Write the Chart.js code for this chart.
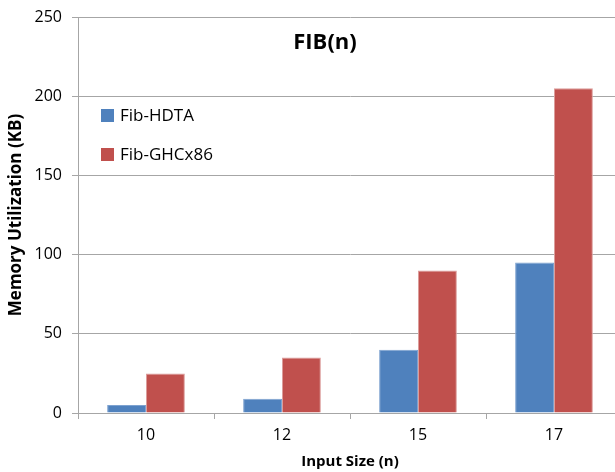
<!DOCTYPE html>
<html lang="en">
<head>
    <title>FIB(n)</title>
    <script src="https://cdn.jsdelivr.net/npm/chart.js"></script>
    <style>
        html, body { margin: 0; padding: 0; overflow: hidden; background: #fff; }
        canvas { display: block; }
    </style>
</head>
<body>
<canvas id="fibChart" width="625" height="472"></canvas>

<script>
    const chartTitle = 'FIB(n)';
    const categories = ['10', '12', '15', '17'];
    const seriesNames = ['Fib-HDTA', 'Fib-GHCx86'];
    const hdtaValues = [5, 9, 40, 95];
    const ghcValues = [25, 35, 90, 205];
    const yTicks = [0, 50, 100, 150, 200, 250];

    const FONT = '"Open Sans", "Liberation Sans", sans-serif';
    const GRID = '#a6a6a6';

    // title and legend sit inside the plot area, so draw them by hand
    const insideLabels = {
        id: 'insideLabels',
        afterDraw(chart) {
            const ctx = chart.ctx;
            ctx.save();
            ctx.fillStyle = '#000';
            ctx.textAlign = 'center';
            ctx.textBaseline = 'middle';
            ctx.font = 'bold 22px ' + FONT;
            ctx.fillText(chartTitle, 325, 43);

            ctx.textAlign = 'left';
            ctx.font = '17px ' + FONT;
            chart.data.datasets.forEach((ds, i) => {
                const y = 115 + i * 39;
                ctx.fillStyle = ds.backgroundColor;
                ctx.fillRect(101, y - 6, 13, 13);
                ctx.fillStyle = '#000';
                ctx.fillText(ds.label, 120, y + 1);
            });
            ctx.restore();
        }
    };

    const ctx = document.getElementById('fibChart').getContext('2d');
    new Chart(ctx, {
        type: 'bar',
        data: {
            labels: categories,
            datasets: [{
                label: seriesNames[0],
                data: hdtaValues,
                backgroundColor: '#4f81bd',
                borderColor: '#7da2d0',
                borderWidth: 1
            }, {
                label: seriesNames[1],
                data: ghcValues,
                backgroundColor: '#c0504d',
                borderColor: '#dc9d9b',
                borderWidth: 1
            }]
        },
        options: {
            responsive: false,
            animation: false,
            layout: { padding: { top: 17, right: 3, left: 0, bottom: 0 } },
            datasets: {
                bar: { categoryPercentage: 2 / 3.5, barPercentage: 1 }
            },
            plugins: {
                legend: { display: false },
                tooltip: { enabled: false }
            },
            scales: {
                x: {
                    offset: true,
                    grid: { offset: true, drawOnChartArea: false, color: GRID, tickLength: 6 },
                    border: { color: GRID },
                    ticks: { color: '#000', padding: 7, font: { family: FONT, size: 16 } },
                    title: {
                        display: true,
                        text: 'Input Size (n)',
                        color: '#000',
                        padding: { top: 0, bottom: 1 },
                        font: { family: FONT, size: 15, weight: 'bold' }
                    },
                    afterFit(scale) {
                        scale.height = 59;
                        scale.paddingLeft = 0;
                        scale.paddingRight = 0;
                    }
                },
                y: {
                    min: 0,
                    max: 250,
                    afterBuildTicks(scale) { scale.ticks = yTicks.map(v => ({ value: v })); },
                    grid: { color: GRID, tickLength: 6 },
                    border: { color: GRID },
                    ticks: { color: '#000', padding: 10, font: { family: FONT, size: 16 } },
                    title: {
                        display: true,
                        text: 'Memory Utilization (KB)',
                        color: '#000',
                        padding: { top: 6, bottom: 0 },
                        font: { family: FONT, size: 17, weight: 'bold' }
                    },
                    afterFit(scale) {
                        scale.width = 78;
                        scale.paddingTop = 0;
                        scale.paddingBottom = 0;
                    }
                }
            }
        },
        plugins: [insideLabels]
    });
</script>
</body>
</html>
